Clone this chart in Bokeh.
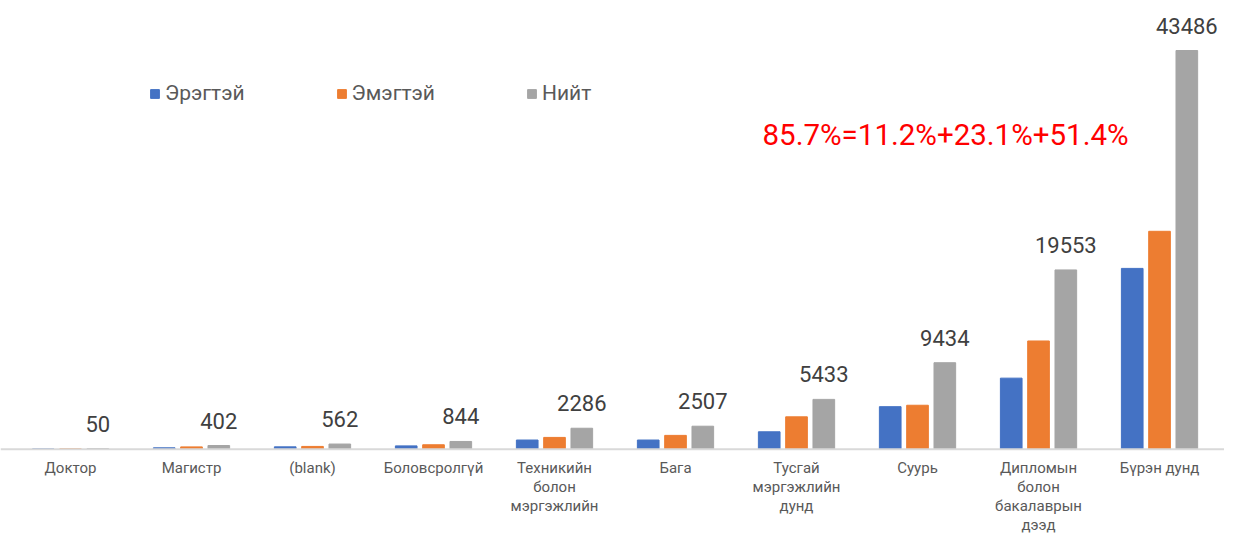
from bokeh.plotting import figure
from bokeh.models import ColumnDataSource, Range1d, LabelSet, Legend, LegendItem, Label, Span
from bokeh.transform import dodge
from bokeh.core.properties import value
from bokeh.embed import file_html
from bokeh.resources import INLINE

categories = ["Доктор", "Магистр", "(blank)", "Боловсролгүй", "Техникийн болон мэргэжлийн",
              "Бага", "Тусгай мэргэжлийн дунд", "Суурь", "Дипломын болон бакалаврын дээд", "Бүрэн дунд"]
tick_labels = ["Доктор", "Магистр", "(blank)", "Боловсролгүй", "Техникийн\nболон\nмэргэжлийн",
               "Бага", "Тусгай\nмэргэжлийн\nдунд", "Суурь", "Дипломын\nболон\nбакалаврын\nдээд", "Бүрэн дунд"]
male = [20, 150, 260, 360, 1000, 1000, 1900, 4640, 7750, 19720]
female = [30, 252, 302, 484, 1286, 1507, 3533, 4794, 11803, 23766]
total = [50, 402, 562, 844, 2286, 2507, 5433, 9434, 19553, 43486]
series_names = ["Эрэгтэй", "Эмэгтэй", "Нийт"]
note = "85.7%=11.2%+23.1%+51.4%"

FONT = "Roboto"
idx = list(range(len(categories)))
src = ColumnDataSource(dict(x=idx, male=male, female=female, total=total,
                            lbl=[str(v) for v in total], cat=tick_labels,
                            zero=[0] * len(idx)))

p = figure(width=1224, height=534, output_backend="svg", toolbar_location=None,
           x_range=Range1d(-0.5785, 9.537), y_range=Range1d(-9304, 48940),
           x_axis_location=None, y_axis_location=None,
           min_border_left=0, min_border_right=0, min_border_top=0, min_border_bottom=0)
p.outline_line_color = None
p.grid.visible = False

off = 0.2256
w = 0.179
r1 = p.vbar(x=dodge("x", -off), top="male", width=w, source=src, color="#4472C4")
r2 = p.vbar(x=dodge("x", 0), top="female", width=w, source=src, color="#ED7D31")
r3 = p.vbar(x=dodge("x", off), top="total", width=w, source=src, color="#A5A5A5")

p.add_layout(Span(location=0, dimension="width", line_color="#D9D9D9", line_width=2))

labels = LabelSet(x=dodge("x", off), y="total", text="lbl", source=src,
                  text_align="center", text_baseline="alphabetic", y_offset=17,
                  text_font=value(FONT), text_font_size="22px", text_color="#404040")
p.add_layout(labels)

p.text(x="x", y="zero", text="cat", source=src, y_offset=10,
       text_align="center", text_baseline="top", text_font=value(FONT),
       text_font_size="15px", text_color="#595959", text_line_height=1.05)

legend = Legend(items=[LegendItem(label=series_names[0], renderers=[r1]),
                       LegendItem(label=series_names[1], renderers=[r2]),
                       LegendItem(label=series_names[2], renderers=[r3])],
                orientation="horizontal", location=(149, 429),
                glyph_width=11, glyph_height=11, label_standoff=5, spacing=91,
                padding=0, margin=0, border_line_color=None, background_fill_alpha=0,
                label_text_font=FONT, label_text_font_size="21px", label_text_color="#595959")
p.add_layout(legend, "center")

p.add_layout(Label(x=762, y=400, x_units="screen", y_units="screen", text=note,
                   text_font=FONT, text_font_size="29.5px", text_color="#FF0000",
                   text_baseline="middle"))

open("out.html", "w").write(file_html(p, INLINE))
